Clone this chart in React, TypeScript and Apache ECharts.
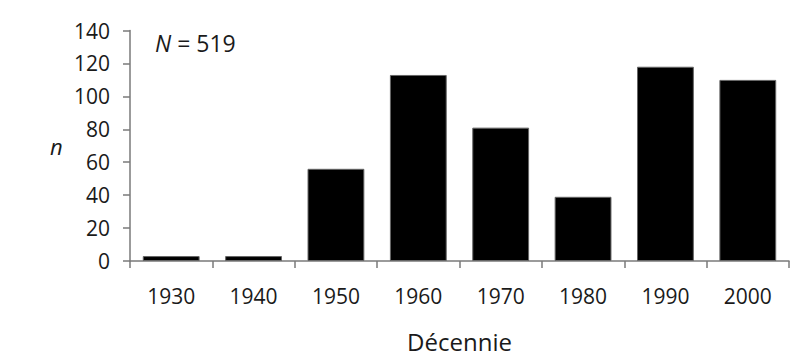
import React, { useEffect, useRef } from "react";
import * as echarts from "echarts";

const decades = ["1930", "1940", "1950", "1960", "1970", "1980", "1990", "2000"];
const counts = [3, 3, 56, 113, 81, 39, 118, 110];
const yTicks = { min: 0, max: 140, interval: 20 };
const nLabel = "N";
const nValue = " = 519";
const xTitle = "Décennie";
const yTitle = "n";

export default function App() {
  const ref = useRef<HTMLDivElement>(null);
  useEffect(() => {
    if (!ref.current) return;
    const chart = echarts.init(ref.current, null, { renderer: "svg" });
    const font = "'Open Sans', 'Noto Sans', sans-serif";
    chart.setOption({
      animation: false,
      backgroundColor: "#ffffff",
      textStyle: { fontFamily: font },
      grid: { left: 130, right: 20, top: 30.5, bottom: 95, containLabel: false },
      xAxis: {
        type: "category",
        data: decades,
        axisLine: { show: true, lineStyle: { color: "#7a7a7a", width: 1.5 } },
        axisTick: { show: true, alignWithLabel: false, length: 7, inside: false, lineStyle: { color: "#7a7a7a", width: 1.5 } },
        axisLabel: { color: "#1a1a1a", fontSize: 21, fontFamily: font, margin: 24 },
        name: xTitle,
        nameLocation: "middle",
        nameGap: 68,
        nameTextStyle: { color: "#1a1a1a", fontSize: 24, fontFamily: font },
      },
      yAxis: {
        type: "value",
        min: yTicks.min,
        max: yTicks.max,
        interval: yTicks.interval,
        splitLine: { show: false },
        axisLine: { show: true, lineStyle: { color: "#7a7a7a", width: 1.5 } },
        axisTick: { show: true, length: 7, lineStyle: { color: "#7a7a7a", width: 1.5 } },
        axisLabel: { color: "#1a1a1a", fontSize: 21, fontFamily: font, margin: 20 },
      },
      graphic: [
        {
          type: "text",
          left: 50,
          top: 135,
          style: { text: yTitle, fontSize: 22, fontStyle: "italic", fontFamily: font, fill: "#1a1a1a" },
        },
        {
          type: "text",
          left: 155,
          top: 31,
          style: {
            text: "{i|" + nLabel + "}{r|" + nValue + "}",
            rich: {
              i: { fontSize: 23, fontStyle: "italic", fontFamily: font, fill: "#1a1a1a" },
              r: { fontSize: 23, fontFamily: font, fill: "#1a1a1a" },
            },
          },
        },
      ],
      series: [
        {
          type: "bar",
          data: counts,
          barCategoryGap: "31%",
          itemStyle: { color: "#000000", borderColor: "#666666", borderWidth: 1 },
        },
      ],
    });
    return () => chart.dispose();
  }, []);
  return <div ref={ref} style={{ width: 809, height: 358, position: "absolute", left: 0, top: 0 }} />;
}
